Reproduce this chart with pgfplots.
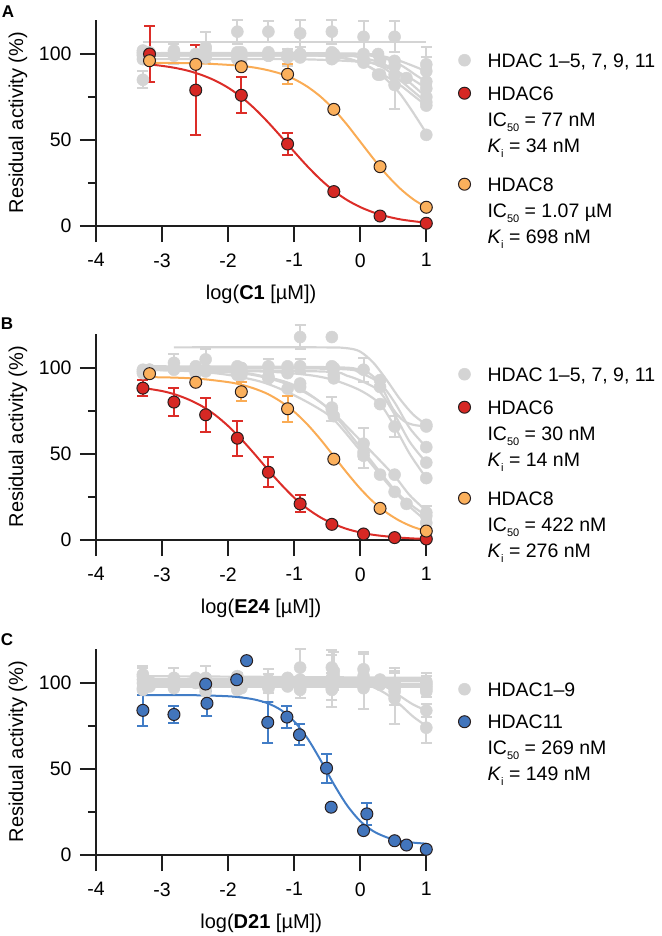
\documentclass[border=0pt]{standalone}
\usepackage{fontspec}
\setmainfont{Liberation Sans}
\usepackage{pgfplots}
\pgfplotsset{compat=1.18}
\definecolor{greyc}{RGB}{212,212,212}
\definecolor{axisc}{RGB}{30,30,30}
\definecolor{redf}{RGB}{214,40,36}
\definecolor{redl}{RGB}{220,45,40}
\definecolor{orf}{RGB}{251,176,92}
\definecolor{orl}{RGB}{250,172,85}
\definecolor{bluef}{RGB}{66,117,188}
\definecolor{bluel}{RGB}{66,125,198}
\definecolor{outl}{RGB}{40,30,30}
\newcommand{\sub}[1]{\raisebox{-5pt}{\fontsize{11}{11}\selectfont #1}}
\pgfplotsset{
 panel/.style={
  scale only axis, width=330.3pt, height=206.4pt,
  xmin=-4, xmax=1, ymin=0, ymax=120,
  axis lines=left, axis line style={-, line width=2pt, color=axisc},
  xtick={-4,-3,-2,-1,0,1}, ytick={0,50,100}, minor ytick={25,75},
  tick align=outside, major tick length=16pt, minor tick length=8pt,
  tick style={line width=2pt, color=axisc},
  tick label style={font=\fontsize{19.5}{20}\selectfont},
  xticklabel style={yshift=-8pt},
  yticklabel style={xshift=-5pt},
  /pgf/number format/assume math mode=true,
  clip=false,
  every axis y label/.style={at={(axis description cs:-0.236,0.5)}, rotate=90, anchor=center, font=\fontsize{20}{22}\selectfont},
  every axis x label/.style={at={(axis description cs:0.5,-0.329)}, anchor=center, font=\fontsize{20}{22}\selectfont},
  ylabel={Residual activity (\%)},
  legend style={draw=none, fill=none, inner sep=0pt, outer sep=0pt,
    at={(axis description cs:1.0975,0.842)}, anchor=north west,
    row sep=6pt, column sep=17pt, font=\fontsize{19.5}{20}\selectfont,
    nodes={inner sep=0pt, text height=15pt, text depth=5pt},
    cells={anchor=base west}},
 },
 gcurve/.style={smooth, line width=2.2pt, color=greyc, forget plot},
 gpts/.style={only marks, mark=*, mark size=6pt, color=greyc,
   mark options={fill=greyc, draw=greyc, line width=0.5pt},
   error bars/y dir=both, error bars/y explicit,
   error bars/error bar style={line width=2pt, greyc},
   error bars/error mark options={rotate=90, mark size=5.5pt, line width=2pt, greyc},
   legend image code/.code={\draw[##1] plot coordinates {(0pt,7pt)};}},
 cpts/.style 2 args={only marks, mark=*, mark size=6pt, color=#2,
   mark options={fill=#1, draw=outl, line width=1pt},
   error bars/y dir=both, error bars/y explicit,
   error bars/error bar style={line width=2pt, #2},
   error bars/error mark options={rotate=90, mark size=5.5pt, line width=2pt, #2},
   legend image code/.code={\draw[##1] plot coordinates {(0pt,7pt)};}},
 ccurve/.style={smooth, line width=2pt, color=#1, forget plot},
}
\begin{document}
\begin{tikzpicture}
\useasboundingbox (0pt,0pt) rectangle (661pt,-936pt);
\node[font=\bfseries\fontsize{17}{17}\selectfont] at (8pt,-12pt) {A};
\node[font=\bfseries\fontsize{17}{17}\selectfont] at (7pt,-324pt) {B};
\node[font=\bfseries\fontsize{17}{17}\selectfont] at (7pt,-640pt) {C};
% ---------------- Panel A ----------------
\begin{axis}[panel, at={(96pt,-226pt)}, anchor=south west,
  xlabel={log(\textbf{C1} [µM])}]
\addplot[gcurve] coordinates {(-3.29,107)(1.0,107)};
\addplot[gcurve] coordinates {(-3.29,100.5)(-1,100.5)(-0.2,100.3)(0,100)(0.3,98)(0.52,95.5)(0.7,91.5)(0.85,87.5)(1.0,84)};
\addplot[gcurve] coordinates {(-3.29,97)(-1,97)(0,95.5)(0.3,93.5)(0.6,89)(0.8,85)(1.0,80)};
\addplot[gcurve] coordinates {(-3.29,99)(-0.5,99)(-0.2,97.5)(0,95)(0.2,91)(0.4,85)(0.6,77)(0.8,66)(1.0,54)};
\addplot[gcurve] coordinates {(-3.19,100.5)(-1,100.5)(-0.4,98.5)(0,95)(0.3,89)(0.6,82)(0.8,76)(1.0,70)};
\addplot[gcurve] coordinates {(-3.29,100)(-0.5,100)(0,98)(0.3,95)(0.5,91)(0.7,85)(0.85,80)(1.0,75)};
\addplot[gcurve] coordinates {(-3.19,100)(0,100)(0.3,99)(0.6,96)(1.0,90)};
\addplot[gcurve] coordinates {(-3.29,99)(-0.3,99)(0,97)(0.3,93)(0.5,88)(0.75,80)(1.0,72)};
\addplot[gpts] table[y error=e, row sep=\\] {x y e\\ -3.29 101 0\\ -2.82 102 0\\ -2.34 104 9\\ -1.86 113 7\\ -1.39 113 6\\ -0.91 112 8\\ -0.43 113 7\\ 0.05 110 9\\ 0.52 110 9\\ 1.0 94 10\\};
\addplot[gpts, forget plot] table[y error=e, row sep=\\] {x y e\\ -3.29 100 0\\ -2.82 100 6\\ -2.34 100 0\\ -1.86 99 0\\ -1.39 99 0\\ -0.91 100 0\\ -0.43 101 0\\ 0.05 100 0\\ 0.52 96 0\\ 1.0 84 8\\};
\addplot[gpts, forget plot] table[y error=e, row sep=\\] {x y e\\ -3.29 85 5\\ -2.49 97 0\\ -1.80 99 0\\ -1.10 98 5\\ -0.40 99 0\\ 0.30 96 0\\ 1.0 80 0\\};
\addplot[gpts, forget plot] table[y error=e, row sep=\\] {x y e\\ -3.29 102 0\\ -2.82 99 0\\ -2.34 99 0\\ -1.86 97 0\\ -1.39 100 0\\ -0.91 98 0\\ -0.43 97 0\\ 0.05 95 0\\ 0.52 82 14\\ 1.0 53 0\\};
\addplot[gpts, forget plot] table[y error=e, row sep=\\] {x y e\\ -3.19 101 0\\ -2.49 100 0\\ -1.80 101 0\\ -1.10 100 0\\ -0.40 98 0\\ 0.30 88 0\\ 1.0 70 0\\};
\addplot[gpts, forget plot] table[y error=e, row sep=\\] {x y e\\ -3.29 99 0\\ -2.82 101 0\\ -2.34 103 0\\ -1.86 100 0\\ -1.39 101 0\\ -0.91 100 0\\ -0.43 98 0\\ 0.05 97 0\\ 0.52 93 0\\ 0.70 86 0\\ 1.0 75 0\\};
\addplot[gpts, forget plot] table[y error=e, row sep=\\] {x y e\\ -3.19 100 0\\ -2.49 98 0\\ -1.80 97 0\\ -1.10 99 0\\ -0.40 100 0\\ 0.27 100 0\\ 1.0 90 8\\};
\addplot[gpts, forget plot] table[y error=e, row sep=\\] {x y e\\ -3.29 97 0\\ -2.82 100 0\\ -2.34 98 0\\ -1.86 101 0\\ -1.39 99 0\\ -0.91 99 0\\ -0.43 100 0\\ 0.05 96 0\\ 0.27 88 0\\ 0.52 88 0\\ 1.0 72 0\\};
\addlegendentry{HDAC 1–5, 7, 9, 11}
\addplot[ccurve=redl] coordinates {(-3.2,94.0)(-3.0,93.1)(-2.8,91.9)(-2.6,90.2)(-2.4,87.8)(-2.2,84.6)(-2.0,80.4)(-1.8,75.0)(-1.6,68.3)(-1.4,60.5)(-1.2,52.0)(-1.0,43.2)(-0.8,34.7)(-0.6,27.0)(-0.4,20.4)(-0.2,15.1)(0,11.0)(0.2,7.9)(0.4,5.6)(0.6,3.9)(0.8,2.8)(1.0,1.9)};
\addplot[cpts={redf}{redl}] table[y error=e, row sep=\\] {x y e\\ -3.19 100 16\\ -2.49 79 26\\ -1.80 76 10.5\\ -1.10 47.7 6.6\\ -0.40 20 0\\ 0.30 5.8 0\\ 1.0 1.6 0\\};
\addlegendentry[text height=22pt]{HDAC6}
\addlegendimage{empty legend}\addlegendentry{IC\sub{50} = 77 nM}
\addlegendimage{empty legend}\addlegendentry{\textit{K}\sub{i} = 34 nM}
\addplot[ccurve=orl] coordinates {(-3.2,94.9)(-2.8,94.8)(-2.4,94.5)(-2.0,93.7)(-1.8,93.1)(-1.6,92.1)(-1.4,90.6)(-1.2,88.5)(-1.0,85.4)(-0.8,81.0)(-0.6,75.2)(-0.4,67.8)(-0.2,58.9)(0,49.0)(0.2,39.1)(0.4,29.8)(0.6,21.9)(0.8,15.6)(1.0,10.8)};
\addplot[cpts={orf}{orl}] table[y error=e, row sep=\\] {x y e\\ -3.19 96.1 0\\ -2.49 94.0 0\\ -1.80 92.6 0\\ -1.10 88.2 5.7\\ -0.40 67.8 0\\ 0.30 34.5 0\\ 1.0 10.9 0\\};
\addlegendentry[text height=28pt]{HDAC8}
\addlegendimage{empty legend}\addlegendentry{IC\sub{50} = 1.07 µM}
\addlegendimage{empty legend}\addlegendentry{\textit{K}\sub{i} = 698 nM}
\end{axis}
% ---------------- Panel B ----------------
\begin{axis}[panel, at={(96pt,-540pt)}, anchor=south west,
  xlabel={log(\textbf{E24} [µM])}]
\addplot[gcurve] coordinates {(-2.82,112)(-0.6,112)(-0.2,111.5)(0,109.5)(0.2,103)(0.4,93)(0.6,82)(0.8,73)(1.0,67)};
\addplot[gcurve] coordinates {(-3.29,101)(-0.5,100.5)(0,99)(0.2,95)(0.35,87)(0.5,76)(0.65,69.5)(0.8,67)(1.0,66)};
\addplot[gcurve] coordinates {(-3.19,100)(-0.4,99.5)(0,97)(0.3,91)(0.52,80)(0.75,65)(1.0,54)};
\addplot[gcurve] coordinates {(-3.19,99)(-0.6,98)(-0.2,95.5)(0.1,91)(0.3,86)(0.52,73)(0.75,57)(1.0,45)};
\addplot[gcurve] coordinates {(-3.19,99)(-1.5,98)(-0.8,96)(-0.4,93)(0,87)(0.3,79)(0.52,66)(0.75,50)(1.0,36)};
\addplot[gcurve] coordinates {(-3.29,100)(-2.5,99.5)(-2,98.5)(-1.5,95.5)(-1.0,90)(-0.5,77)(0,58)(0.5,38)(0.75,26)(1.0,17)};
\addplot[gcurve] coordinates {(-3.19,99)(-2.5,98)(-2.0,96)(-1.5,92)(-1.1,86)(-0.7,78)(-0.4,70)(0,52)(0.3,38)(0.5,29)(0.7,21)(1.0,11)};
\addplot[gcurve] coordinates {(-3.29,99)(-2,97.5)(-1.5,95)(-1,89)(-0.5,77)(0,54)(0.5,30)(0.75,21)(1.0,14)};
\addplot[gpts] table[y error=e, row sep=\\] {x y e\\ -0.91 118 7\\ -0.43 118 0\\ 1.0 67 0\\};
\addplot[gpts, forget plot] table[y error=e, row sep=\\] {x y e\\ -3.29 98 0\\ -2.82 103 5\\ -2.34 105 6\\ -1.86 101 0\\ -1.39 101 4\\ -0.91 101 4\\ -0.43 101 0\\ 0.05 99 7\\ 0.52 66 6\\ 1.0 66 0\\};
\addplot[gpts, forget plot] table[y error=e, row sep=\\] {x y e\\ -3.19 97 0\\ -2.49 101 0\\ -1.80 100 0\\ -1.10 101 0\\ -0.40 100 0\\ 0.30 93 0\\ 1.0 54 0\\};
\addplot[gpts, forget plot] table[y error=e, row sep=\\] {x y e\\ -3.19 99 0\\ -2.49 97 0\\ -1.80 98 0\\ -1.10 98 0\\ -0.40 96 0\\ 0.30 89 0\\ 1.0 45 0\\};
\addplot[gpts, forget plot] table[y error=e, row sep=\\] {x y e\\ -3.19 98 0\\ -2.49 99 0\\ -1.80 100 0\\ -1.10 97 0\\ -0.40 94 0\\ 0.30 79 0\\ 1.0 36 0\\};
\addplot[gpts, forget plot] table[y error=e, row sep=\\] {x y e\\ -3.29 99 0\\ -2.82 100 0\\ -2.34 98 0\\ -1.86 97 0\\ -1.39 95 0\\ -0.91 89 0\\ -0.43 76 7\\ 0.05 56 9\\ 0.52 38 0\\ 1.0 16 4\\};
\addplot[gpts, forget plot] table[y error=e, row sep=\\] {x y e\\ -3.19 99 0\\ -2.49 98 0\\ -1.80 96 0\\ -1.10 88 0\\ -0.40 72 0\\ 0.05 49 7\\ 0.30 38 0\\ 0.70 21 0\\ 1.0 10 0\\};
\addplot[gpts, forget plot] table[y error=e, row sep=\\] {x y e\\ -3.29 97 0\\ -2.82 99 0\\ -2.34 99 0\\ -1.86 96 0\\ -1.39 94 0\\ -0.91 91 0\\ -0.43 77 0\\ 0.05 51 0\\ 0.52 28 0\\ 1.0 14 0\\};
\addlegendentry{HDAC 1–5, 7, 9, 11}
\addplot[ccurve=redl] coordinates {(-3.3,88.5)(-3.0,86.6)(-2.8,84.6)(-2.6,81.7)(-2.4,77.9)(-2.2,72.8)(-2.0,66.3)(-1.8,58.6)(-1.6,50.0)(-1.4,41.0)(-1.2,32.4)(-1.0,24.6)(-0.8,18.2)(-0.6,13.1)(-0.4,9.3)(-0.2,6.4)(0,4.4)(0.2,3.0)(0.4,2.1)(0.6,1.4)(0.8,0.9)(1.0,0.6)};
\addplot[cpts={redf}{redl}] table[y error=e, row sep=\\] {x y e\\ -3.29 88.3 4.7\\ -2.82 80.2 8\\ -2.34 72.8 10\\ -1.86 59.2 10.2\\ -1.39 39.4 8.7\\ -0.91 21.0 5\\ -0.43 9.1 0\\ 0.05 3.5 0\\ 0.52 1.4 0\\ 1.0 0.6 0\\};
\addlegendentry[text height=22pt]{HDAC6}
\addlegendimage{empty legend}\addlegendentry{IC\sub{50} = 30 nM}
\addlegendimage{empty legend}\addlegendentry{\textit{K}\sub{i} = 14 nM}
\addplot[ccurve=orl] coordinates {(-3.2,94.7)(-2.8,94.4)(-2.4,93.6)(-2.0,91.8)(-1.8,90.3)(-1.6,88.0)(-1.4,84.9)(-1.2,80.4)(-1.0,74.6)(-0.8,67.2)(-0.6,58.4)(-0.4,48.7)(-0.2,39.0)(0,29.9)(0.2,22.1)(0.4,15.9)(0.6,11.1)(0.8,7.6)(1.0,5.2)};
\addplot[cpts={orf}{orl}] table[y error=e, row sep=\\] {x y e\\ -3.19 96.7 0\\ -2.49 91.7 0\\ -1.80 86.2 5.5\\ -1.10 76.3 7.5\\ -0.40 47.0 0\\ 0.30 18.4 0\\ 1.0 5.2 0\\};
\addlegendentry[text height=28pt]{HDAC8}
\addlegendimage{empty legend}\addlegendentry{IC\sub{50} = 422 nM}
\addlegendimage{empty legend}\addlegendentry{\textit{K}\sub{i} = 276 nM}
\end{axis}
% ---------------- Panel C ----------------
\begin{axis}[panel, at={(96pt,-855pt)}, anchor=south west,
  xlabel={log(\textbf{D21} [µM])}]
\addplot[gcurve] coordinates {(-3.29,104)(1.0,103)};
\addplot[gcurve] coordinates {(-3.29,101)(1.0,101)};
\addplot[gcurve] coordinates {(-3.19,100)(1.0,99.5)};
\addplot[gcurve] coordinates {(-3.29,99)(0,99)(0.2,97.5)(0.4,93.5)(0.6,87.5)(0.8,80.5)(1.0,75)};
\addplot[gcurve] coordinates {(-3.29,100.5)(0.2,100.5)(0.4,97.5)(0.6,92.5)(0.8,87.5)(1.0,84)};
\addplot[gcurve] coordinates {(-3.19,102)(1.0,102)};
\addplot[gcurve] coordinates {(-3.29,97.5)(1.0,97.5)};
\addplot[gcurve] coordinates {(-3.29,98.5)(1.0,98.5)};
\addplot[gcurve] coordinates {(-3.19,99.5)(1.0,99)};
\addplot[gpts] table[y error=e, row sep=\\] {x y e\\ -3.29 104 5\\ -2.82 103 6\\ -2.34 103 7\\ -1.86 100 0\\ -1.39 101 7\\ -0.91 109 11\\ -0.43 109 10\\ 0.05 108 10\\ 0.52 100 0\\ 1.0 99 7\\};
\addplot[gpts, forget plot] table[y error=e, row sep=\\] {x y e\\ -3.29 100 0\\ -2.82 101 0\\ -2.34 98 0\\ -1.86 104 0\\ -1.39 97 8\\ -0.91 100 9\\ -0.43 103 13\\ 0.05 101 16\\ 0.52 100 9\\ 1.0 97 0\\};
\addplot[gpts, forget plot] table[y error=e, row sep=\\] {x y e\\ -3.19 98 0\\ -2.49 100 0\\ -1.80 97 0\\ -1.10 103 0\\ -0.40 99 0\\ 0.30 102 0\\ 1.0 98 6\\};
\addplot[gpts, forget plot] table[y error=e, row sep=\\] {x y e\\ -3.29 97 0\\ -2.82 99 0\\ -2.34 101 0\\ -1.86 99 7\\ -1.39 98 0\\ -0.91 97 6\\ -0.43 100 0\\ 0.05 99 0\\ 0.52 91 15\\ 1.0 74 9\\};
\addplot[gpts, forget plot] table[y error=e, row sep=\\] {x y e\\ -3.29 102 0\\ -2.82 97 0\\ -2.34 99 0\\ -1.86 96 0\\ -1.39 102 0\\ -0.91 102 0\\ -0.43 97 0\\ 0.05 102 0\\ 0.52 95 0\\ 1.0 84 4\\};
\addplot[gpts, forget plot] table[y error=e, row sep=\\] {x y e\\ -3.19 101 0\\ -2.49 103 0\\ -1.80 100 0\\ -1.10 100 0\\ -0.40 104 0\\ 0.30 100 0\\ 1.0 101 0\\};
\addplot[gpts, forget plot] table[y error=e, row sep=\\] {x y e\\ -3.29 96 0\\ -2.82 98 0\\ -2.34 97 0\\ -1.86 98 0\\ -1.39 99 0\\ -0.91 96 0\\ -0.43 98 0\\ 0.05 97 0\\ 0.52 98 0\\ 1.0 96 0\\};
\addplot[gpts, forget plot] table[y error=e, row sep=\\] {x y e\\ -3.29 105 5\\ -2.82 99 0\\ -2.34 95 0\\ -1.86 98 0\\ -1.39 100 0\\ -0.91 101 0\\ -0.43 96 10\\ 0.05 104 0\\ 0.52 97 10\\ 1.0 95 0\\};
\addplot[gpts, forget plot] table[y error=e, row sep=\\] {x y e\\ -3.19 99 0\\ -2.49 102 0\\ -1.80 99 0\\ -1.10 98 0\\ -0.40 107 11\\ 0.30 99 0\\ 1.0 100 0\\};
\addlegendentry{HDAC1–9}
\addplot[ccurve=bluel] coordinates {(-3.3,93.0)(-2.5,92.9)(-2.0,92.3)(-1.8,91.6)(-1.6,90.4)(-1.4,88.2)(-1.2,84.3)(-1.0,77.7)(-0.8,67.9)(-0.6,55.1)(-0.4,41.2)(-0.2,28.9)(0,19.7)(0.2,13.8)(0.4,10.3)(0.6,8.3)(0.8,7.2)(1.0,6.6)};
\addplot[cpts={bluef}{bluel}] table[y error=e, row sep=\\] {x y e\\ -3.29 84.1 9.2\\ -2.82 81.7 4.7\\ -2.34 99.4 5.5\\ -2.32 88.2 7.1\\ -1.87 101.9 0\\ -1.72 113.0 0\\ -1.40 77.1 12\\ -1.11 80.2 6.3\\ -0.92 69.9 6.1\\ -0.51 50.5 8.4\\ -0.44 27.8 0\\ 0.05 14.2 0\\ 0.10 23.9 6.3\\ 0.52 8.3 0\\ 0.70 5.8 0\\ 1.0 3.3 0\\};
\addlegendentry[text height=21.5pt]{HDAC11}
\addlegendimage{empty legend}\addlegendentry{IC\sub{50} = 269 nM}
\addlegendimage{empty legend}\addlegendentry{\textit{K}\sub{i} = 149 nM}
\end{axis}
\end{tikzpicture}
\end{document}
